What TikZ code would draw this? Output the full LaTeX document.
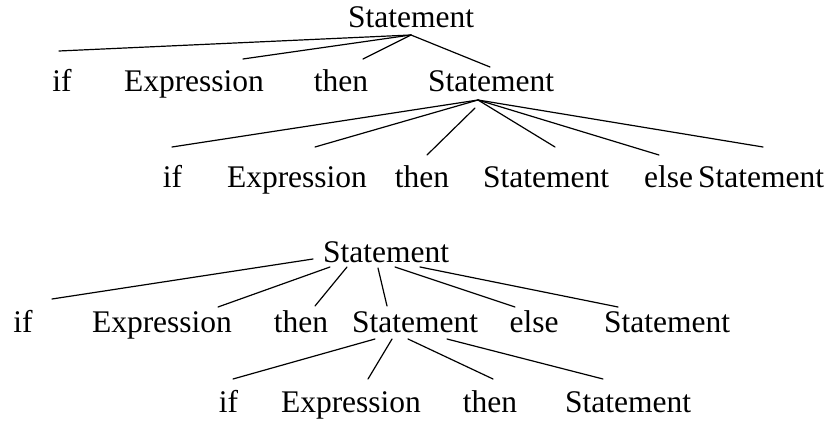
\documentclass[tikz,border=0pt]{standalone}
\usepackage{fontspec}
\setmainfont{Liberation Serif}
\begin{document}
\begin{tikzpicture}[x=1pt,y=-1pt,
  lbl/.style={anchor=base,inner sep=0pt,font=\fontsize{31.5}{36}\selectfont},
  edge/.style={line width=1.2pt,line cap=round}]
\useasboundingbox (0,0) rectangle (833,422);
% ---------- top tree ----------
\node[lbl] (A)   at (411,28) {Statement};
\node[lbl] (Aif) at (62,92) {if};
\node[lbl] (Aex) at (194,92) {Expression};
\node[lbl] (Ath) at (341,92) {then};
\node[lbl] (As)  at (491,92) {Statement};
\node[lbl] (Bif) at (172.5,188) {if};
\node[lbl] (Bex) at (297,188) {Expression};
\node[lbl] (Bth) at (422,188) {then};
\node[lbl] (Bs1) at (546,188) {Statement};
\node[lbl] (Bel) at (668.5,188) {else};
\node[lbl] (Bs2) at (761,188) {Statement};
\coordinate (a0) at (411,35);
\coordinate (a1) at (59,51);
\coordinate (a2) at (243,59);
\coordinate (a3) at (363,59);
\coordinate (a4) at (490,67);
\draw[edge] (a0) -- (a1);
\draw[edge] (a0) -- (a2);
\draw[edge] (a0) -- (a3);
\draw[edge] (a0) -- (a4);
\coordinate (b0) at (478,100);
\coordinate (b1) at (172,147);
\coordinate (b2) at (315,147);
\coordinate (b3t) at (475,108);
\coordinate (b3) at (427,155);
\coordinate (b4) at (555,147);
\coordinate (b5) at (659,155);
\coordinate (b6) at (763,147);
\draw[edge] (b0) -- (b1);
\draw[edge] (b0) -- (b2);
\draw[edge] (b3t) -- (b3);
\draw[edge] (b0) -- (b4);
\draw[edge] (b0) -- (b5);
\draw[edge] (b0) -- (b6);
% ---------- bottom tree ----------
\node[lbl] (C)   at (386,262) {Statement};
\node[lbl] (Cif) at (23,332) {if};
\node[lbl] (Cex) at (162,332) {Expression};
\node[lbl] (Cth) at (301,332) {then};
\node[lbl] (Cs1) at (415,332) {Statement};
\node[lbl] (Cel) at (534,332) {else};
\node[lbl] (Cs2) at (667,332) {Statement};
\node[lbl] (Dif) at (228.5,412) {if};
\node[lbl] (Dex) at (351,412) {Expression};
\node[lbl] (Dth) at (490,412) {then};
\node[lbl] (Ds)  at (628,412) {Statement};
\coordinate (c1s) at (313,259); \coordinate (c1e) at (52,299);
\coordinate (c2s) at (330,267); \coordinate (c2e) at (218,307);
\coordinate (c3s) at (347,267); \coordinate (c3e) at (315,306);
\coordinate (c4s) at (378,268); \coordinate (c4e) at (387,306);
\coordinate (c5s) at (395,267); \coordinate (c5e) at (515,307);
\coordinate (c6s) at (420,267); \coordinate (c6e) at (618,307);
\draw[edge] (c1s) -- (c1e);
\draw[edge] (c2s) -- (c2e);
\draw[edge] (c3s) -- (c3e);
\draw[edge] (c4s) -- (c4e);
\draw[edge] (c5s) -- (c5e);
\draw[edge] (c6s) -- (c6e);
\coordinate (d1s) at (375,339); \coordinate (d1e) at (233,379);
\coordinate (d2s) at (392,339); \coordinate (d2e) at (368,379);
\coordinate (d3s) at (408,339); \coordinate (d3e) at (493,379);
\coordinate (d4s) at (447,339); \coordinate (d4e) at (603,379);
\draw[edge] (d1s) -- (d1e);
\draw[edge] (d2s) -- (d2e);
\draw[edge] (d3s) -- (d3e);
\draw[edge] (d4s) -- (d4e);
\end{tikzpicture}
\end{document}
